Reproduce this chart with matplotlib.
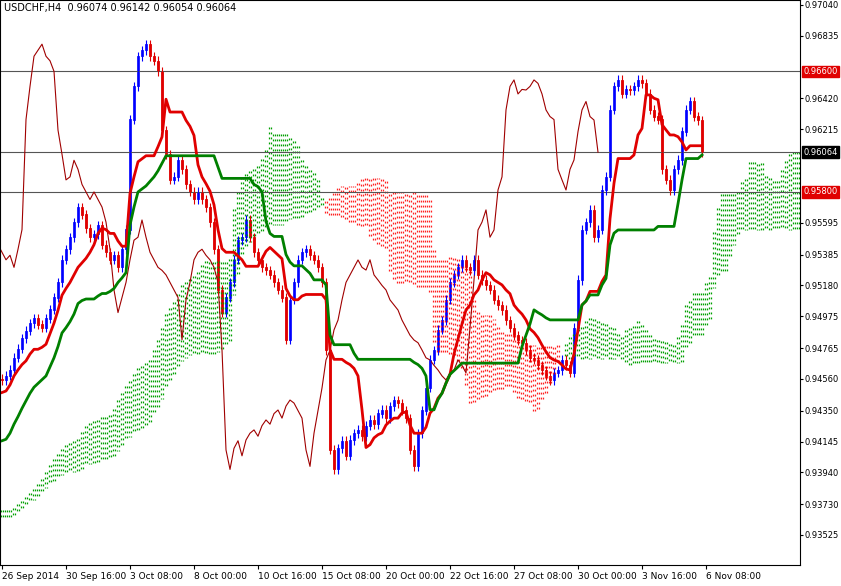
import numpy as np
import matplotlib.pyplot as plt

# closes in 1e-5 above 0.9 ; hidden history feeds the ichimoku before the first shown bar
hist = [3600,3620,3580,3550,3530,3500,3520,3560,3600,3650, 3700,3680,3640,3600,3580,3620,3660,3700,3720,3760,
        3800,3780,3740,3700,3680,3650,3620,3600,3580,3560, 3540,3520,3500,3480,3470,3500,3540,3580,3620,3650,
        3680,3700,3720,3700,3680,3660,3700,3740,3760,3780, 3800,3820,
        3760,3740,3780,3820,3860,3900,3950,4000,4050,4100, 4150,4200,4260,4300,4350,4380,4420,4400,4380,4420,
        4460,4500,4520,4480,4520,4560]
closes = [4553,4580,4620,4700,4760,4830,4880,4930,4960,4920,
          4900,4960,5020,5100,5200,5350,5420,5500,5600,5700,
          5650,5560,5500,5520,5580,5450,5400,5350,5380,5300,
          5420,5550,6280,6500,6700,6740,6780,6700,6670,6600,
          6210,6050,5880,5900,6010,5950,5850,5800,5750,5800,
          5750,5700,5600,5420,5150,5000,5100,5200,5350,5480,
          5500,5614,5500,5400,5350,5300,5280,5250,5200,5150,
          5100,4820,5084,5200,5350,5400,5420,5380,5350,5300,
          5200,4752,4089,3960,4100,4150,4050,4155,4200,4222,
          4180,4250,4288,4260,4330,4354,4300,4380,4420,4400,
          4350,4300,4089,3980,4200,4350,4500,4686,4750,4885,
          4950,5084,5200,5250,5300,5349,5300,5282,5350,5250,
          5216,5180,5150,5084,5050,5017,4950,4900,4850,4818,
          4800,4752,4700,4686,4650,4619,4580,4553,4600,4619,
          4686,4650,4600,4900,5216,5548,5600,5681,5500,5548,
          5813,5900,6344,6500,6543,6450,6480,6476,6500,6543,
          6520,6450,6344,6300,6280,5950,5880,5813,5950,6012,
          6200,6344,6400,6300,6277,6064]
xlabels = ['26 Sep 2014', '30 Sep 16:00', '3 Oct 08:00', '8 Oct 00:00', '10 Oct 16:00', '15 Oct 08:00',
           '20 Oct 00:00', '22 Oct 16:00', '27 Oct 08:00', '30 Oct 00:00', '3 Nov 16:00', '6 Nov 08:00']
yticks = [0.97040, 0.96835, 0.96420, 0.96215, 0.95595, 0.95385, 0.95180, 0.94975, 0.94765,
          0.94560, 0.94350, 0.94145, 0.93940, 0.93730, 0.93525]
hlines = [(0.96600, '#e00000'), (0.96064, 'black'), (0.95800, '#e00000')]

allc = 0.9 + np.array(hist + closes) / 1e5
off = len(hist)
opens = np.concatenate([[allc[0]], allc[:-1]])
highs = np.maximum(opens, allc) + 0.0003
lows = np.minimum(opens, allc) - 0.0003
n = len(allc)
idx = np.arange(n) - off

def mid(p):
    out = np.full(n, np.nan)
    for i in range(p - 1, n):
        out[i] = (highs[i-p+1:i+1].max() + lows[i-p+1:i+1].min()) / 2
    return out

tenkan = mid(9)
kijun = mid(26)
spanA = (tenkan + kijun) / 2
spanB = mid(52)

fig = plt.figure(figsize=(8.41, 5.86), dpi=100)
ax = fig.add_axes([0, 21/586, 800/841, 565/586])
ax.set_xlim(-0.5, 199.5)
ax.set_ylim(0.93326, 0.97073)

# cloud, shifted 26 bars forward, drawn as dotted verticals like MT4
cx = idx + 26
ok = ~np.isnan(spanB)
a, b, x = spanA[ok], spanB[ok], cx[ok]
cols = np.where(a >= b, '#00a000', '#ff2020')
for off_x in (-0.25, 0.25):
    ax.vlines(x + off_x, a, b, colors=cols, linestyles=(0, (1.5, 2.5)), lw=0.9)

for y, c in hlines:
    ax.axhline(y, color='#555555', lw=0.8)

# chikou
vis = idx >= 0
ax.plot(idx[vis] - 26, allc[vis], color='#a00000', lw=0.8)

for i in np.where(vis)[0]:
    xi = idx[i]
    up = allc[i] >= opens[i]
    col = '#0000ff' if up else '#e00000'
    ax.vlines(xi, lows[i], highs[i], color=col, lw=0.8)
    ax.bar(xi, abs(allc[i] - opens[i]) + 1e-5, bottom=min(allc[i], opens[i]), width=0.7,
           color=('white' if up else '#e00000'), edgecolor=col, lw=0.6)

ax.plot(idx[vis], tenkan[vis], color='#e00000', lw=2)
ax.plot(idx[vis], kijun[vis], color='#008000', lw=2)

ax.yaxis.tick_right()
ax.set_yticks(yticks)
ax.set_yticklabels([f'{v:.5f}' for v in yticks], fontsize=6)
for y, c in hlines:
    ax.text(1.004, y, f'{y:.5f}', transform=ax.get_yaxis_transform(), fontsize=6, va='center',
            color='white', bbox=dict(boxstyle='square,pad=0.15', fc=c, ec=c))
ax.set_xticks(np.arange(0, 16 * len(xlabels), 16))
ax.set_xticklabels(xlabels, fontsize=6.5, ha='left')
ax.tick_params(axis='y', length=2, pad=1)
ax.tick_params(axis='x', length=3, pad=2)
ax.text(0.005, 0.995, 'USDCHF,H4  0.96074 0.96142 0.96054 0.96064', transform=ax.transAxes,
        fontsize=7, va='top')
plt.savefig('out.png', dpi=100)
